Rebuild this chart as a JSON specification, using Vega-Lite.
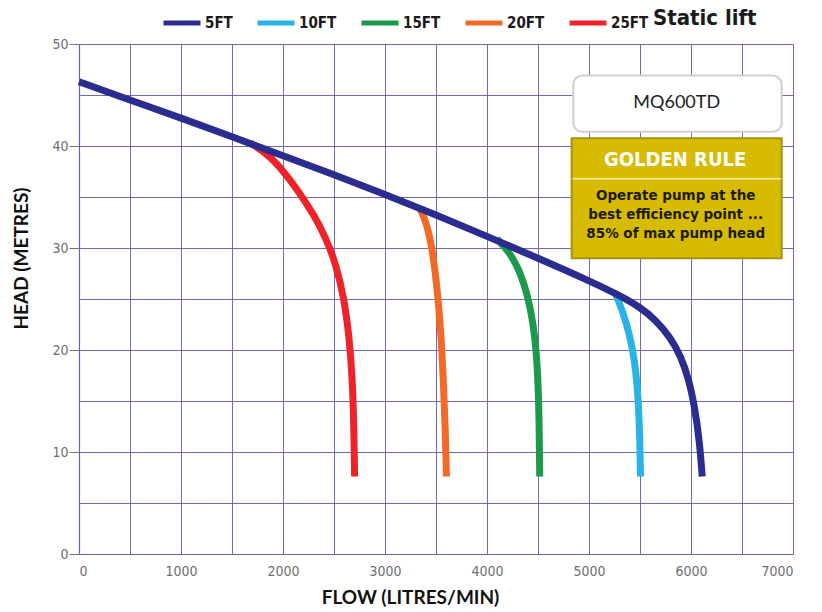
{
  "$schema": "https://vega.github.io/schema/vega-lite/v6.json",
  "width": 714,
  "height": 510,
  "autosize": {"type": "none"},
  "padding": {"left": 79, "top": 44, "right": 29, "bottom": 58},
  "background": "white",
  "config": {
    "view": {"stroke": null},
    "axis": {
      "grid": true,
      "gridColor": "#6762b3",
      "gridWidth": 1,
      "gridOpacity": 0.95,
      "domainColor": "#6762b3",
      "domainWidth": 1.2,
      "labelFont": "DejaVu Sans Condensed, sans-serif",
      "labelFontSize": 14,
      "labelColor": "#6e6e6e",
      "titleFont": "Lato, sans-serif",
      "titleFontWeight": "bold",
      "titleFontSize": 19,
      "titleColor": "#111111"
    }
  },
  "datasets": {
    "curves": [
      {"series": "5FT", "flow": 0, "head": 46.3},
      {"series": "5FT", "flow": 500, "head": 44.5},
      {"series": "5FT", "flow": 1000, "head": 42.75},
      {"series": "5FT", "flow": 1500, "head": 40.9},
      {"series": "5FT", "flow": 2000, "head": 39.05},
      {"series": "5FT", "flow": 2500, "head": 37.2},
      {"series": "5FT", "flow": 3000, "head": 35.25},
      {"series": "5FT", "flow": 3500, "head": 33.25},
      {"series": "5FT", "flow": 4000, "head": 31.15},
      {"series": "5FT", "flow": 4500, "head": 29.0},
      {"series": "5FT", "flow": 5000, "head": 26.8},
      {"series": "5FT", "flow": 5300, "head": 25.35},
      {"series": "5FT", "flow": 5500, "head": 24.2},
      {"series": "5FT", "flow": 5650, "head": 23.0},
      {"series": "5FT", "flow": 5800, "head": 21.2},
      {"series": "5FT", "flow": 5900, "head": 19.4},
      {"series": "5FT", "flow": 5980, "head": 17.1},
      {"series": "5FT", "flow": 6040, "head": 14.2},
      {"series": "5FT", "flow": 6085, "head": 10.9},
      {"series": "5FT", "flow": 6110, "head": 7.6},
      {"series": "10FT", "flow": 5260, "head": 25.5},
      {"series": "10FT", "flow": 5330, "head": 23.8},
      {"series": "10FT", "flow": 5400, "head": 21.5},
      {"series": "10FT", "flow": 5450, "head": 18.8},
      {"series": "10FT", "flow": 5482, "head": 15.5},
      {"series": "10FT", "flow": 5498, "head": 11.5},
      {"series": "10FT", "flow": 5505, "head": 7.6},
      {"series": "15FT", "flow": 4099, "head": 30.9},
      {"series": "15FT", "flow": 4220, "head": 29.6},
      {"series": "15FT", "flow": 4320, "head": 27.8},
      {"series": "15FT", "flow": 4410, "head": 25.0},
      {"series": "15FT", "flow": 4470, "head": 21.5},
      {"series": "15FT", "flow": 4500, "head": 17.5},
      {"series": "15FT", "flow": 4512, "head": 12.5},
      {"series": "15FT", "flow": 4517, "head": 7.6},
      {"series": "20FT", "flow": 3346, "head": 33.8},
      {"series": "20FT", "flow": 3410, "head": 32.4},
      {"series": "20FT", "flow": 3465, "head": 29.8},
      {"series": "20FT", "flow": 3510, "head": 26.2},
      {"series": "20FT", "flow": 3545, "head": 22.2},
      {"series": "20FT", "flow": 3573, "head": 17.0},
      {"series": "20FT", "flow": 3592, "head": 12.0},
      {"series": "20FT", "flow": 3602, "head": 7.6},
      {"series": "25FT", "flow": 1678, "head": 40.3},
      {"series": "25FT", "flow": 1850, "head": 39.2},
      {"series": "25FT", "flow": 2000, "head": 37.6},
      {"series": "25FT", "flow": 2150, "head": 35.6},
      {"series": "25FT", "flow": 2300, "head": 33.3},
      {"series": "25FT", "flow": 2420, "head": 31.0},
      {"series": "25FT", "flow": 2520, "head": 28.4},
      {"series": "25FT", "flow": 2600, "head": 25.0},
      {"series": "25FT", "flow": 2650, "head": 21.2},
      {"series": "25FT", "flow": 2680, "head": 17.2},
      {"series": "25FT", "flow": 2695, "head": 12.5},
      {"series": "25FT", "flow": 2702, "head": 7.6}
    ]
  },
  "layer": [
    {
      "data": {"values": [{}]},
      "mark": {"type": "rect", "fill": "white", "stroke": "#cfcfcf", "strokeWidth": 2, "cornerRadius": 9},
      "encoding": {
        "x": {"datum": 4846, "type": "quantitative", "scale": {"domain": [0, 7000], "nice": false}, "title": "FLOW (LITRES/MIN)",
          "axis": {"values": [0,500,1000,1500,2000,2500,3000,3500,4000,4500,5000,5500,6000,6500,7000], "grid": true,
                   "labelExpr": "datum.value % 1000 === 0 ? datum.label : ''", "ticks": false, "labelPadding": 10, "titlePadding": 10, "titleX": 331, "format": "d"}},
        "x2": {"datum": 6889},
        "y": {"datum": 46.9, "type": "quantitative", "scale": {"domain": [0, 50], "nice": false}, "title": "HEAD (METRES)",
          "axis": {"values": [0,5,10,15,20,25,30,35,40,45,50], "grid": true,
                   "labelExpr": "datum.value % 10 === 0 ? datum.label : ''",
                   "tickSize": 10, "tickColor": "#777777",
                   "tickOpacity": {"condition": {"test": "datum.value % 10 === 0", "value": 1}, "value": 0},
                   "labelPadding": 1, "titlePadding": 20, "titleY": 214}},
        "y2": {"datum": 41.4}
      }
    },
    {
      "data": {"values": [{}]},
      "mark": {"type": "rect", "fill": "#d6bb00", "stroke": "#a8920c", "strokeWidth": 2},
      "encoding": {
        "x": {"datum": 4830, "type": "quantitative", "title": "FLOW (LITRES/MIN)"},
        "x2": {"datum": 6889},
        "y": {"datum": 40.75, "type": "quantitative", "title": "HEAD (METRES)"},
        "y2": {"datum": 29.0}
      }
    },
    {
      "data": {"values": [{}]},
      "mark": {"type": "rule", "stroke": "#f3e9a6", "strokeWidth": 1.5},
      "encoding": {
        "x": {"datum": 4840, "type": "quantitative", "title": "FLOW (LITRES/MIN)"},
        "x2": {"datum": 6880},
        "y": {"datum": 36.8, "type": "quantitative", "title": "HEAD (METRES)"}
      }
    },
    {
      "data": {"values": [{}]},
      "mark": {"type": "text", "text": "MQ600TD", "font": "Lato, sans-serif", "fontSize": 18, "color": "#222222", "align": "center", "baseline": "middle"},
      "encoding": {
        "x": {"datum": 5860, "type": "quantitative", "title": "FLOW (LITRES/MIN)"},
        "y": {"datum": 44.2, "type": "quantitative", "title": "HEAD (METRES)"}
      }
    },
    {
      "data": {"values": [{}]},
      "mark": {"type": "text", "text": "GOLDEN RULE", "font": "DejaVu Sans Condensed, sans-serif", "fontWeight": "bold", "fontSize": 20, "color": "white", "align": "center", "baseline": "middle"},
      "encoding": {
        "x": {"datum": 5845, "type": "quantitative", "title": "FLOW (LITRES/MIN)"},
        "y": {"datum": 38.6, "type": "quantitative", "title": "HEAD (METRES)"}
      }
    },
    {
      "data": {"values": [{}]},
      "mark": {"type": "text", "text": ["Operate pump at the", "best efficiency point ...", "85% of max pump head"], "lineHeight": 19, "font": "DejaVu Sans, sans-serif", "fontWeight": "bold", "fontSize": 13.5, "color": "#1e1a05", "align": "center", "baseline": "middle"},
      "encoding": {
        "x": {"datum": 5850, "type": "quantitative", "title": "FLOW (LITRES/MIN)"},
        "y": {"datum": 35.1, "type": "quantitative", "title": "HEAD (METRES)"}
      }
    },
    {
      "data": {"name": "curves"},
      "transform": [{"filter": "datum.series !== '5FT'"}],
      "mark": {"type": "line", "interpolate": "basis", "strokeWidth": 7, "strokeCap": "butt"},
      "encoding": {
        "x": {"field": "flow", "type": "quantitative", "title": "FLOW (LITRES/MIN)"},
        "y": {"field": "head", "type": "quantitative", "title": "HEAD (METRES)"},
        "color": {"field": "series", "type": "nominal",
          "scale": {"domain": ["5FT", "10FT", "15FT", "20FT", "25FT"], "range": ["#2b2d8e", "#2ab4e6", "#1b9a4b", "#f26a26", "#ee2229"]},
          "legend": {"orient": "none", "legendX": 82, "legendY": -42, "direction": "horizontal", "columns": 5,
            "title": "Static lift", "titleOrient": "right", "titlePadding": 5,
            "titleFont": "DejaVu Sans Condensed, sans-serif", "titleFontWeight": "bold", "titleFontSize": 22, "titleColor": "#1a1a1a",
            "labelFont": "DejaVu Sans Condensed, sans-serif", "labelFontWeight": "bold", "labelFontSize": 15, "labelColor": "#1a1a1a",
            "symbolType": "stroke", "symbolStrokeWidth": 5, "symbolSize": 1369, "labelOffset": 2, "columnPadding": 14, "padding": 0}}
      }
    },
    {
      "data": {"name": "curves"},
      "transform": [{"filter": "datum.series === '5FT'"}],
      "mark": {"type": "line", "interpolate": "basis", "strokeWidth": 7, "strokeCap": "butt"},
      "encoding": {
        "x": {"field": "flow", "type": "quantitative", "title": "FLOW (LITRES/MIN)"},
        "y": {"field": "head", "type": "quantitative", "title": "HEAD (METRES)"},
        "color": {"field": "series", "type": "nominal"}
      }
    }
  ]
}
